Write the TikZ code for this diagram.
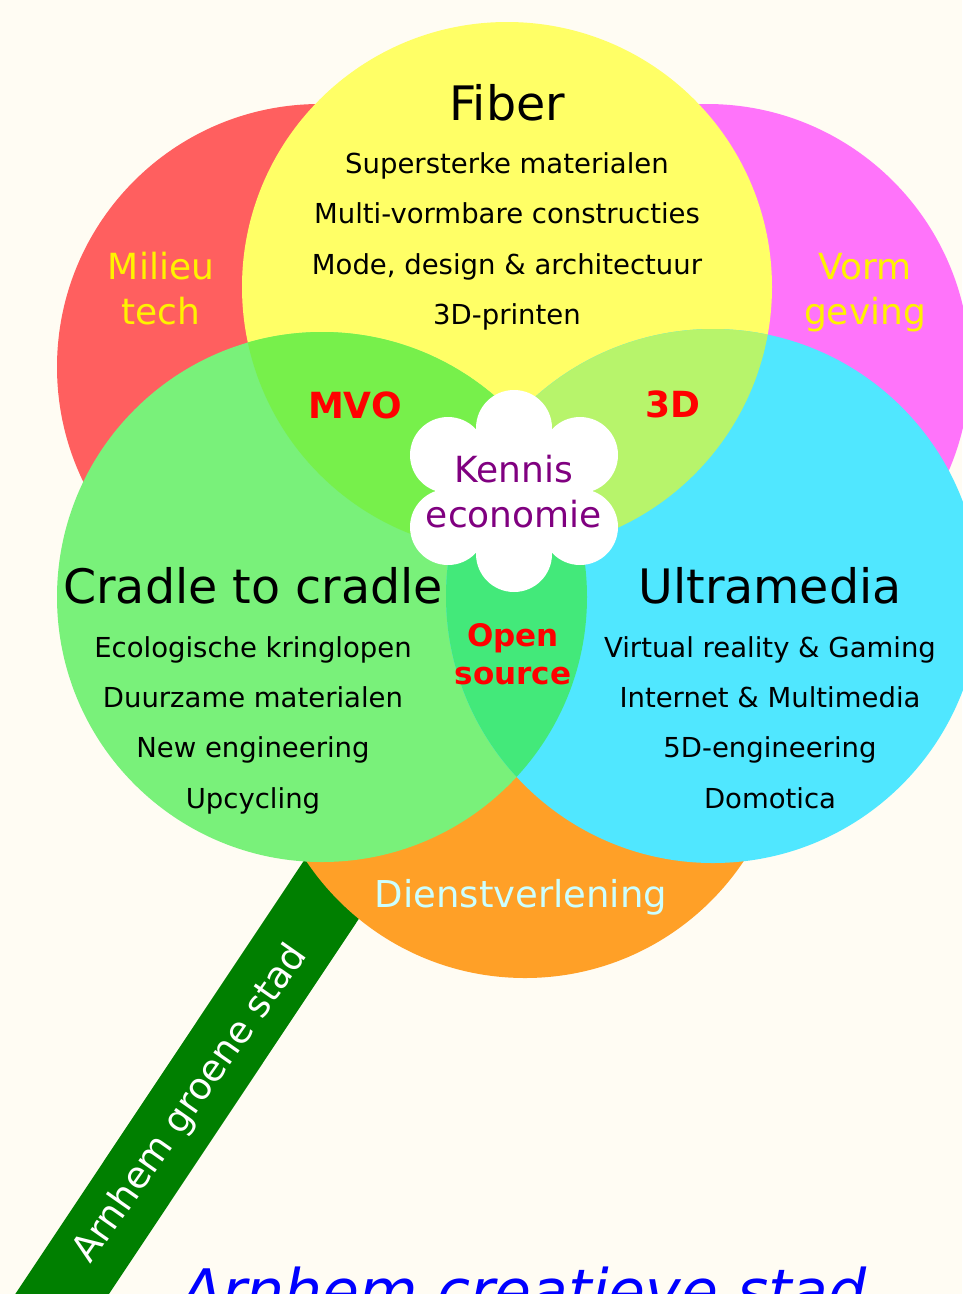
\documentclass[tikz,border=0pt]{standalone}
\usepackage{fontspec}
\setmainfont{DejaVu Sans}
\definecolor{cream}{HTML}{FFFCF3}
\definecolor{milieured}{HTML}{FF5F5F}
\definecolor{vormpink}{HTML}{FF74FA}
\definecolor{dienstorange}{HTML}{FFA027}
\definecolor{fiberyellow}{HTML}{FFFF66}
\definecolor{cradlegreen}{HTML}{79F17A}
\definecolor{ultracyan}{HTML}{50E7FF}
\definecolor{mvogreen}{HTML}{77F04B}
\definecolor{printlime}{HTML}{B7F46B}
\definecolor{opengreen}{HTML}{43E97A}
\definecolor{stemgreen}{HTML}{007F00}
\definecolor{paleblue}{HTML}{CCFFFF}
\definecolor{kennispurple}{HTML}{800080}

\begin{document}
\begin{tikzpicture}[x=1pt, y=-1pt,
    title/.style={font=\fontsize{47.5}{56}\selectfont, anchor=base},
    subline/.style={font=\fontsize{27.5}{33}\selectfont, anchor=base},
    side/.style={font=\fontsize{36}{45}\selectfont, text=yellow, align=center},
    overlap/.style={font=\bfseries\fontsize{36}{40}\selectfont, text=red, anchor=base}]
    \useasboundingbox[fill=cream] (0,0) rectangle (962,1294);

    % Stem
    \fill[stemgreen] (371,760) -- (436,803) -- (63,1363) -- (-2,1320) -- cycle;
    \node[font=\fontsize{37}{40}\selectfont, text=white, rotate=55]
        (groen) at (191,1104) {Arnhem groene stad};

    % Back circles
    \fill[milieured] (320,367) circle[radius=263pt];
    \fill[vormpink] (707,367) circle[radius=263pt];
    \fill[dienstorange] (525,715) circle[radius=263pt];

    % Front circles
    \fill[fiberyellow] (507,287) circle[radius=265pt];
    \fill[cradlegreen] (322,597) circle[radius=265pt];
    \fill[ultracyan] (713,596) circle[radius=267pt];

    % Overlaps
    \begin{scope}
        \clip (507,287) circle[radius=265pt];
        \fill[mvogreen] (322,597) circle[radius=265pt];
        \fill[printlime] (713,596) circle[radius=267pt];
    \end{scope}
    \begin{scope}
        \clip (322,597) circle[radius=265pt];
        \fill[opengreen] (713,596) circle[radius=267pt];
    \end{scope}

    % Flower in the middle
    \begin{scope}[shift={(514,491)}]
        \fill[white] (0,0) circle[radius=64pt];
        \foreach \p in {(0,-63), (66,-36), (66,36), (0,63), (-66,36), (-66,-36)} {
            \fill[white] \p circle[radius=38pt];
        }
    \end{scope}

    % Fiber
    \node[title] (fiber) at (507,120) {Fiber};
    \foreach \txt [count=\i] in {Supersterke materialen, Multi-vormbare constructies,
        {Mode, design \& architectuur}, 3D-printen} {
        \node[subline] (fiber-\i) at (507,122.4+50.6*\i) {\txt};
    }

    % Cradle to cradle
    \node[title] (cradle) at (253,603) {Cradle to cradle};
    \foreach \txt [count=\i] in {Ecologische kringlopen, Duurzame materialen,
        New engineering, Upcycling} {
        \node[subline] (cradle-\i) at (253,606.6+50.4*\i) {\txt};
    }

    % Ultramedia
    \node[title] (ultra) at (770,603) {Ultramedia};
    \foreach \txt [count=\i] in {Virtual reality \& Gaming, Internet \& Multimedia,
        5D-engineering, Domotica} {
        \node[subline] (ultra-\i) at (770,606.6+50.4*\i) {\txt};
    }

    % Outer circles and overlaps
    \node[side] (milieu) at (161,288.5) {Milieu\\tech};
    \node[side] (vorm) at (865,293) {Vorm\\geving};
    \node[overlap] (mvo) at (355,418) {MVO};
    \node[overlap] (druk) at (672.5,417) {3D};
    \node[font=\bfseries\fontsize{31}{38}\selectfont, text=red, align=center]
        (open) at (513,654.5) {Open\\source};
    \node[font=\fontsize{36}{45}\selectfont, text=kennispurple, align=center]
        (kennis) at (514,492) {Kennis\\economie};
    \node[font=\fontsize{37}{40}\selectfont, text=paleblue, anchor=base]
        (dienst) at (521,907) {Dienstverlening};

    % Bottom line
    \node[font=\itshape\fontsize{60}{66}\selectfont, text=blue, anchor=base]
        (creatief) at (524,1312) {Arnhem creatieve stad};
\end{tikzpicture}
\end{document}
